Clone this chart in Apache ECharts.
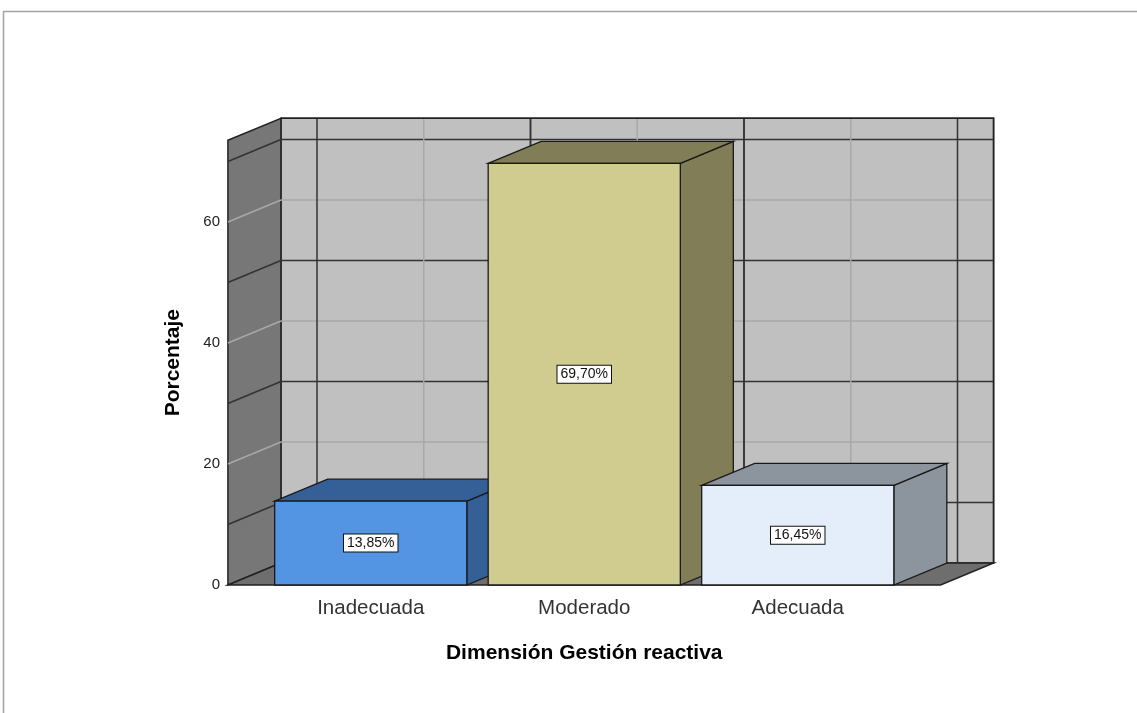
<!DOCTYPE html>
<html>
<head>
<meta charset="utf-8">
<title>Dimensión Gestión reactiva</title>
<script src="https://cdn.jsdelivr.net/npm/echarts@6/dist/echarts.min.js"></script>
<style>
  html, body { margin: 0; padding: 0; background: #fff; }
  #chart { width: 1137px; height: 713px; }
</style>
</head>
<body>
<div id="chart"></div>
<script>
// data
const categories = ["Inadecuada", "Moderado", "Adecuada"];
const percentages = [13.85, 69.7, 16.45];
const yMax = 73.5;
const gridValues = [10, 20, 30, 40, 50, 60, 70];

const frontColors = ["#5394e3", "#d0cb8f", "#e3eefa"];
const sideColors = ["#345f97", "#807d57", "#8c949e"];

// depth offset of the pseudo 3d box
const DX = 53;
const DY = -22;
const EXT = 0.169; // walls go a bit past the outer bands
const FONT = "'Liberation Sans', Arial, sans-serif";

const chart = echarts.init(document.getElementById("chart"));

const fmt = (v) => v.toFixed(2).replace(".", ",") + "%";

const frameItem = (params, api) => {
  const band = api.size([1, 0])[0];
  const x0 = api.coord([0, 0])[0] - band / 2 - band * EXT;
  const xr = api.coord([categories.length - 1, 0])[0] + band / 2 + band * EXT;
  const yb = api.coord([0, 0])[1];
  const yt = api.coord([0, yMax])[1];
  const edge = { stroke: "#222", lineWidth: 1.5 };
  const children = [
    {
      type: "polygon",
      shape: { points: [[x0 + DX, yt + DY], [xr + DX, yt + DY], [xr + DX, yb + DY], [x0 + DX, yb + DY]] },
      style: Object.assign({ fill: "#c0c0c0" }, edge),
    },
    {
      type: "polygon",
      shape: { points: [[x0, yt], [x0 + DX, yt + DY], [x0 + DX, yb + DY], [x0, yb]] },
      style: Object.assign({ fill: "#777777" }, edge),
    },
    {
      type: "polygon",
      shape: { points: [[x0, yb], [xr, yb], [xr + DX, yb + DY], [x0 + DX, yb + DY]] },
      style: Object.assign({ fill: "#6e6e6e" }, edge),
    },
  ];

  gridValues.forEach((v) => {
    const y = api.coord([0, v])[1];
    const light = v % 20 === 0;
    const style = { stroke: light ? "#a8a8a8" : "#333", lineWidth: 1.5 };
    children.push({
      type: "line",
      shape: { x1: x0 + DX, y1: y + DY, x2: xr + DX, y2: y + DY },
      style: style,
    });
    children.push({
      type: "line",
      shape: { x1: x0, y1: y, x2: x0 + DX, y2: y + DY },
      style: style,
    });
  });

  categories.forEach((c, i) => {
    const cx = api.coord([i, 0])[0];
    children.push({
      type: "line",
      shape: { x1: cx + DX, y1: yt + DY, x2: cx + DX, y2: yb + DY },
      style: { stroke: "#a8a8a8", lineWidth: 1.5 },
    });
    [cx - band / 2, cx + band / 2].forEach((bx) => {
      children.push({
        type: "line",
        shape: { x1: bx + DX, y1: yt + DY, x2: bx + DX, y2: yb + DY },
        style: { stroke: "#333", lineWidth: 1.5 },
      });
    });
  });

  // outline of back wall top and right edge over the grid lines
  children.push({
    type: "polyline",
    shape: { points: [[x0 + DX, yt + DY], [xr + DX, yt + DY], [xr + DX, yb + DY]] },
    style: { fill: null, stroke: "#222", lineWidth: 1.5 },
  });

  return { type: "group", children: children };
};

const barItem = (params, api) => {
  const i = api.value(0);
  const v = api.value(1);
  const band = api.size([1, 0])[0];
  const w = band * 0.9;
  const top = api.coord([i, v]);
  const bot = api.coord([i, 0]);
  const x1 = top[0] - w / 2;
  const x2 = top[0] + w / 2;
  const yT = top[1];
  const yB = bot[1];
  const edge = { stroke: "#1a1a1a", lineWidth: 1.3 };
  return {
    type: "group",
    children: [
      {
        type: "polygon",
        shape: { points: [[x2, yT], [x2 + DX, yT + DY], [x2 + DX, yB + DY], [x2, yB]] },
        style: Object.assign({ fill: sideColors[i] }, edge),
      },
      {
        type: "polygon",
        shape: { points: [[x1, yT], [x2, yT], [x2 + DX, yT + DY], [x1 + DX, yT + DY]] },
        style: Object.assign({ fill: sideColors[i] }, edge),
      },
      {
        type: "rect",
        shape: { x: x1, y: yT, width: w, height: yB - yT },
        style: Object.assign({ fill: frontColors[i] }, edge),
      },
      {
        type: "text",
        x: top[0],
        y: (yT + yB) / 2,
        style: {
          text: fmt(v),
          fontFamily: FONT,
          fontSize: 14,
          fill: "#111",
          align: "center",
          verticalAlign: "middle",
          backgroundColor: "#fff",
          borderColor: "#111",
          borderWidth: 1,
          padding: [2, 3, 1, 3],
        },
      },
    ],
  };
};

const option = {
  animation: false,
  backgroundColor: "#fff",
  graphic: [
    {
      type: "line",
      shape: { x1: 3, y1: 11.5, x2: 1137, y2: 11.5 },
      style: { stroke: "#a3a3a3", lineWidth: 1.5 },
    },
    {
      type: "line",
      shape: { x1: 3.5, y1: 11, x2: 3.5, y2: 713 },
      style: { stroke: "#a3a3a3", lineWidth: 1.5 },
    },
  ],
  grid: {
    left: 264,
    right: 232.5,
    top: 140.3,
    bottom: 128,
  },
  xAxis: {
    type: "category",
    data: categories,
    axisLine: { show: false },
    axisTick: { show: false },
    axisLabel: {
      fontFamily: FONT,
      fontSize: 20.5,
      color: "#333",
      margin: 13,
    },
    name: "Dimensión Gestión reactiva",
    nameLocation: "middle",
    nameGap: 58,
    nameTextStyle: {
      fontFamily: FONT,
      fontSize: 21,
      fontWeight: "bold",
      color: "#000",
    },
  },
  yAxis: {
    type: "value",
    min: 0,
    max: yMax,
    interval: 20,
    offset: 36,
    axisLine: { show: false },
    axisTick: { show: false },
    splitLine: { show: false },
    axisLabel: {
      fontFamily: FONT,
      fontSize: 15,
      color: "#222",
      margin: 8,
      formatter: (v) => (v % 20 === 0 ? String(v) : ""),
    },
    name: "Porcentaje",
    nameLocation: "middle",
    nameGap: 44,
    nameTextStyle: {
      fontFamily: FONT,
      fontSize: 21,
      fontWeight: "bold",
      color: "#000",
    },
  },
  series: [
    {
      name: "frame",
      type: "custom",
      clip: false,
      silent: true,
      z: 1,
      renderItem: frameItem,
      data: [[0, yMax]],
    },
    {
      name: "Porcentaje",
      type: "custom",
      clip: false,
      z: 2,
      renderItem: barItem,
      data: percentages.map((v, i) => [i, v]),
    },
  ],
};

chart.setOption(option);
</script>
</body>
</html>
